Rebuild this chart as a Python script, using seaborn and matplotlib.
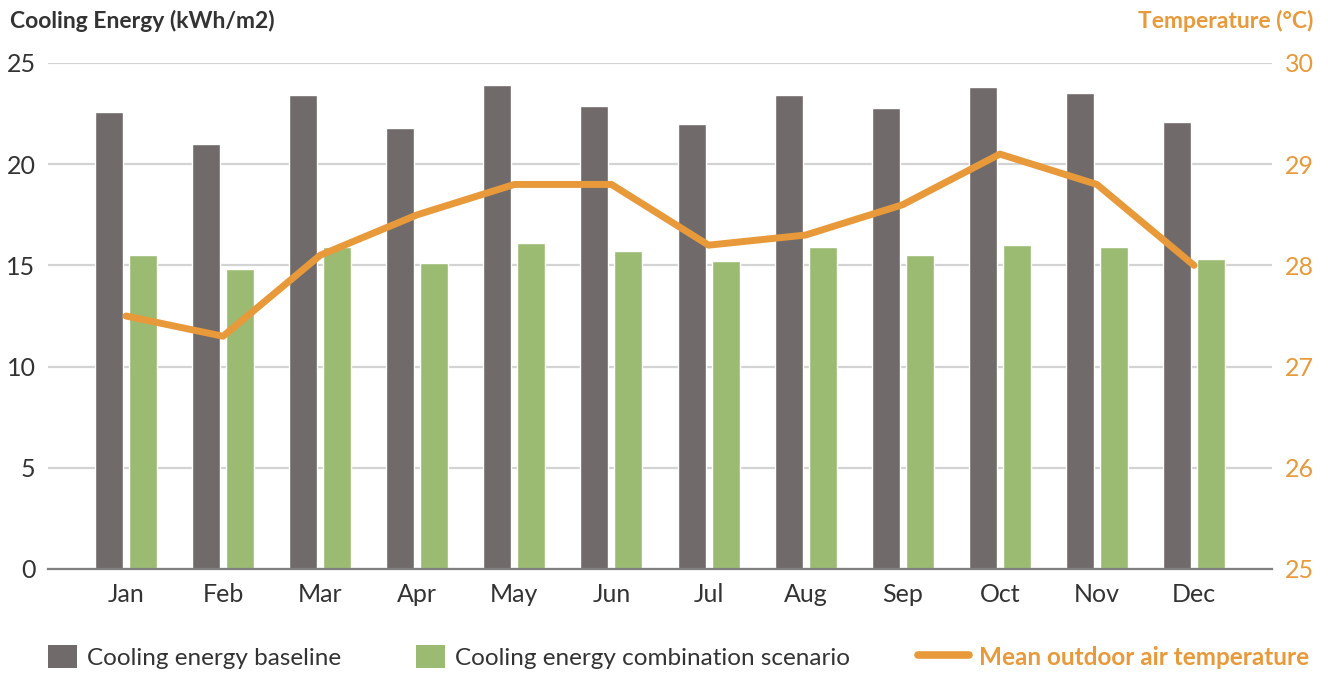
import numpy as np
import pandas as pd
import matplotlib
matplotlib.use("Agg")
import matplotlib.pyplot as plt
from matplotlib.patches import Patch
from matplotlib.lines import Line2D
import seaborn as sns

months = ["Jan", "Feb", "Mar", "Apr", "May", "Jun",
          "Jul", "Aug", "Sep", "Oct", "Nov", "Dec"]
baseline = [22.6, 21.0, 23.4, 21.8, 23.9, 22.9, 22.0, 23.4, 22.8, 23.8, 23.5, 22.1]
combination = [15.5, 14.8, 15.9, 15.1, 16.1, 15.7, 15.2, 15.9, 15.5, 16.0, 15.9, 15.3]
temperature = [27.5, 27.3, 28.1, 28.5, 28.8, 28.8, 28.2, 28.3, 28.6, 29.1, 28.8, 28.0]

series_names = ["Cooling energy baseline", "Cooling energy combination scenario"]
line_name = "Mean outdoor air temperature"
left_title = "Cooling Energy (kWh/m2)"
right_title = "Temperature (°C)"
left_ticks = [0, 5, 10, 15, 20, 25]
right_ticks = [25, 26, 27, 28, 29, 30]

GRAY = "#706B6A"
GREEN = "#9BBB73"
ORANGE = "#E8993A"
TEXT = "#333333"

sns.set_theme(style="white")
plt.rcParams["font.family"] = ["Lato", "DejaVu Sans"]

df = pd.DataFrame({
    "month": months * 2,
    "value": baseline + combination,
    "series": [series_names[0]] * 12 + [series_names[1]] * 12,
})

fig = plt.figure(figsize=(13.28, 6.73), dpi=100)
ax = fig.add_axes([48 / 1328, 1 - 569 / 673, 1224 / 1328, 506 / 673])

sns.barplot(data=df, x="month", y="value", hue="series", order=months,
            hue_order=series_names, palette=[GRAY, GREEN], width=0.7, gap=0.177,
            saturation=1, legend=False, ax=ax)

ax.set_ylim(0, 25)
ax.set_xlim(-0.803, 11.803)
ax.set_yticks(left_ticks)
ax.yaxis.grid(True, color="#D3D3D3", linewidth=1.6)
ax.set_axisbelow(True)
for s in ["top", "right", "left"]:
    ax.spines[s].set_visible(False)
ax.spines["bottom"].set_color("#7F7F7F")
ax.spines["bottom"].set_linewidth(1.6)
ax.set_xlabel("")
ax.set_ylabel("")
ax.tick_params(axis="x", length=0, pad=10, labelsize=18, labelcolor=TEXT)
ax.tick_params(axis="y", length=0, pad=9, labelsize=18, labelcolor=TEXT)

ax2 = ax.twinx()
sns.lineplot(x=np.arange(len(months)), y=temperature, color=ORANGE,
             linewidth=5, ax=ax2, legend=False)
ax2.set_ylim(25, 30)
ax2.set_yticks(right_ticks)
ax2.grid(False)
for s in ["top", "right", "left", "bottom"]:
    ax2.spines[s].set_visible(False)
ax2.tick_params(axis="y", length=0, pad=9, labelsize=18, labelcolor=ORANGE)
ax2.set_ylabel("")
ax.set_xlim(-0.803, 11.803)

fig.text(10 / 1328, 1 - 21 / 673, left_title, fontsize=16.5, fontweight="bold",
         color=TEXT, ha="left", va="center")
fig.text(1313 / 1328, 1 - 21 / 673, right_title, fontsize=16.5, fontweight="bold",
         color=ORANGE, ha="right", va="center")

# legend entries, one block each
legend_specs = [
    (Patch(facecolor=GRAY, edgecolor="none"), series_names[0], TEXT, 48, 1.2),
    (Patch(facecolor=GREEN, edgecolor="none"), series_names[1], TEXT, 416, 1.2),
    (Line2D([0], [0], color=ORANGE, linewidth=5.5, solid_capstyle="round"),
     line_name, ORANGE, 918, 2.1),
]
for handle, label, color, xpix, hlen in legend_specs:
    leg = fig.legend([handle], [label], loc="center left",
                     bbox_to_anchor=(xpix / 1328, 1 - 657 / 673),
                     frameon=False, fontsize=17.5, handlelength=hlen,
                     handleheight=1.05, handletextpad=0.4, borderpad=0,
                     borderaxespad=0)
    for t in leg.get_texts():
        t.set_color(color)
        if color == ORANGE:
            t.set_fontweight("bold")

fig.savefig("out.png", dpi=100)
